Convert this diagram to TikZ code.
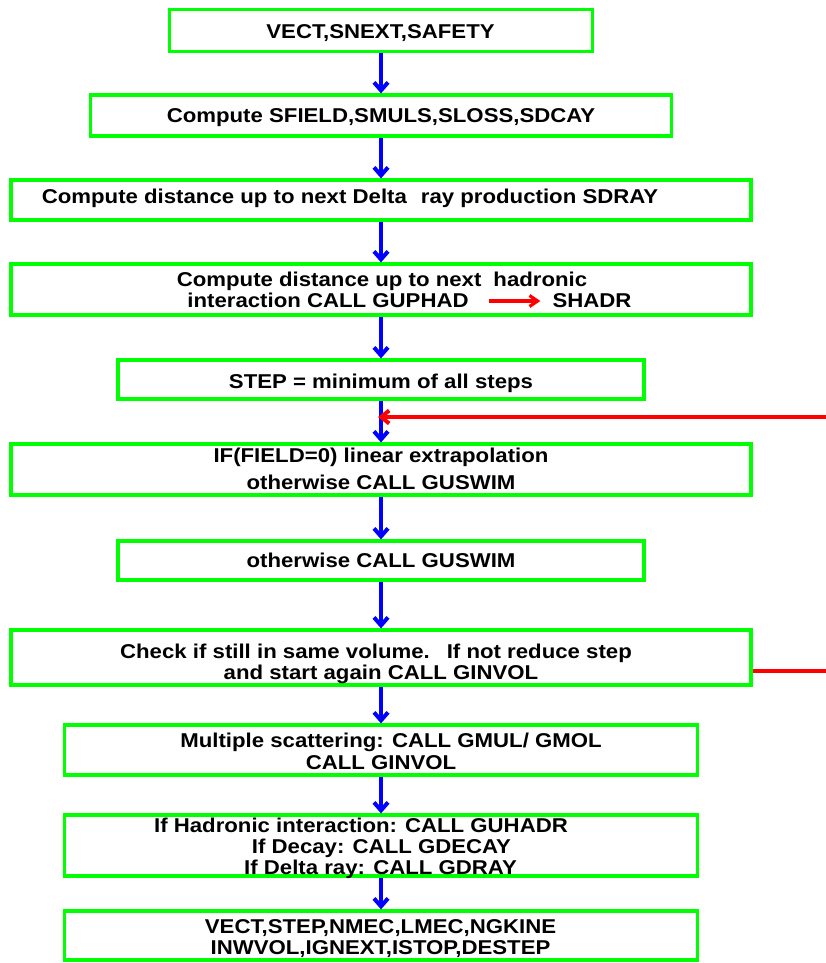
\documentclass[tikz,border=0pt]{standalone}
\usepackage{fontspec}
\setmainfont[FakeStretch=1.11]{Liberation Sans}
\usetikzlibrary{arrows.meta}
\definecolor{boxgreen}{RGB}{0,255,0}
\definecolor{flowblue}{RGB}{0,0,255}
\definecolor{flowred}{RGB}{255,0,0}
\begin{document}
\begin{tikzpicture}[x=1pt,y=-1pt,
  box/.style={draw=boxgreen, line width=3.2pt, inner sep=0pt},
  txt/.style={font=\bfseries\fontsize{20}{21}\selectfont, inner sep=0pt, anchor=base},
  flow/.style={draw=flowblue, line width=4pt, -{Straight Barb[length=8pt,width=14pt]}},
  redarrow/.style={draw=flowred, line width=4pt, -{Straight Barb[length=8pt,width=13pt]}},
  redline/.style={draw=flowred, line width=4pt},
  smallred/.style={draw=flowred, line width=3.2pt, -{Straight Barb[length=8pt,width=11pt]}}
]
\useasboundingbox (0,0) rectangle (825,963);

% boxes
\node[box, minimum width=423pt, minimum height=42pt] (b1) at (381,30.5) {};
\node[box, minimum width=581pt, minimum height=41pt] (b2) at (381,115.5) {};
\node[box, minimum width=740pt, minimum height=40pt] (b3) at (381,200) {};
\node[box, minimum width=740pt, minimum height=51pt] (b4) at (381,289.5) {};
\node[box, minimum width=526pt, minimum height=39pt] (b5) at (381,379.5) {};
\node[box, minimum width=740pt, minimum height=51pt] (b6) at (381,469.5) {};
\node[box, minimum width=526pt, minimum height=39pt] (b7) at (381,560.5) {};
\node[box, minimum width=740pt, minimum height=55pt] (b8) at (381,657.5) {};
\node[box, minimum width=633pt, minimum height=50pt] (b9) at (381,750) {};
\node[box, minimum width=633pt, minimum height=61pt] (b10) at (381,845.5) {};
\node[box, minimum width=633pt, minimum height=49pt] (b11) at (381,935.5) {};

% texts
\node[txt] (t1) at (380.5,39) {VECT,SNEXT,SAFETY};
\node[txt] (t2) at (381,123) {Compute SFIELD,SMULS,SLOSS,SDCAY};
\node[txt] (t3) at (350,203) {Compute distance up to next Delta\hspace*{14pt}ray production SDRAY};
\node[txt] (t4a) at (382,286) {Compute distance up to next\hspace*{12pt}hadronic};
\node[txt] (t4b) at (328,307) {interaction CALL GUPHAD};
\node[txt] (t4c) at (592,307) {SHADR};
\node[txt] (t5) at (381,388) {STEP = minimum of all steps};
\node[txt] (t6a) at (381,462) {IF(FIELD=0) linear extrapolation};
\node[txt] (t6b) at (381,489) {otherwise CALL GUSWIM};
\node[txt] (t7) at (381,567) {otherwise CALL GUSWIM};
\node[txt] (t8a) at (376,658) {Check if still in same volume.\hspace*{17pt}If not reduce step};
\node[txt] (t8b) at (381,679) {and start again CALL GINVOL};
\node[txt] (t9a) at (391,747) {Multiple scattering: CALL GMUL/ GMOL};
\node[txt] (t9b) at (381,769) {CALL GINVOL};
\node[txt] (t10a) at (361,832) {If Hadronic interaction:\hspace*{8pt}CALL GUHADR};
\node[txt] (t10b) at (381.5,853) {If Decay: CALL GDECAY};
\node[txt] (t10c) at (380.5,874) {If Delta ray: CALL GDRAY};
\node[txt] (t11a) at (380.5,933) {VECT,STEP,NMEC,LMEC,NGKINE};
\node[txt] (t11b) at (380.5,954) {INWVOL,IGNEXT,ISTOP,DESTEP};

% blue flow arrows
\draw[flow] (b1) -- (b2);
\draw[flow] (b2) -- (b3);
\draw[flow] (b3) -- (b4);
\draw[flow] (b4) -- (b5);
\draw[flow] (b5) -- (b6);
\draw[flow] (b6) -- (b7);
\draw[flow] (b7) -- (b8);
\draw[flow] (b8) -- (b9);
\draw[flow] (b9) -- (b10);
\draw[flow] (b10) -- (b11);

% red arrows
\coordinate (rin) at (826,417);
\coordinate (rout) at (826,671);
\draw[redarrow] (rin) -- ([xshift=-3pt]b5.south |- rin);
\draw[redline] (b8.east |- rout) -- (rout);
\draw[smallred, shorten <=20pt, shorten >=12pt] (t4b.east |- 0,301) -- (t4c.west |- 0,301);
\end{tikzpicture}
\end{document}
